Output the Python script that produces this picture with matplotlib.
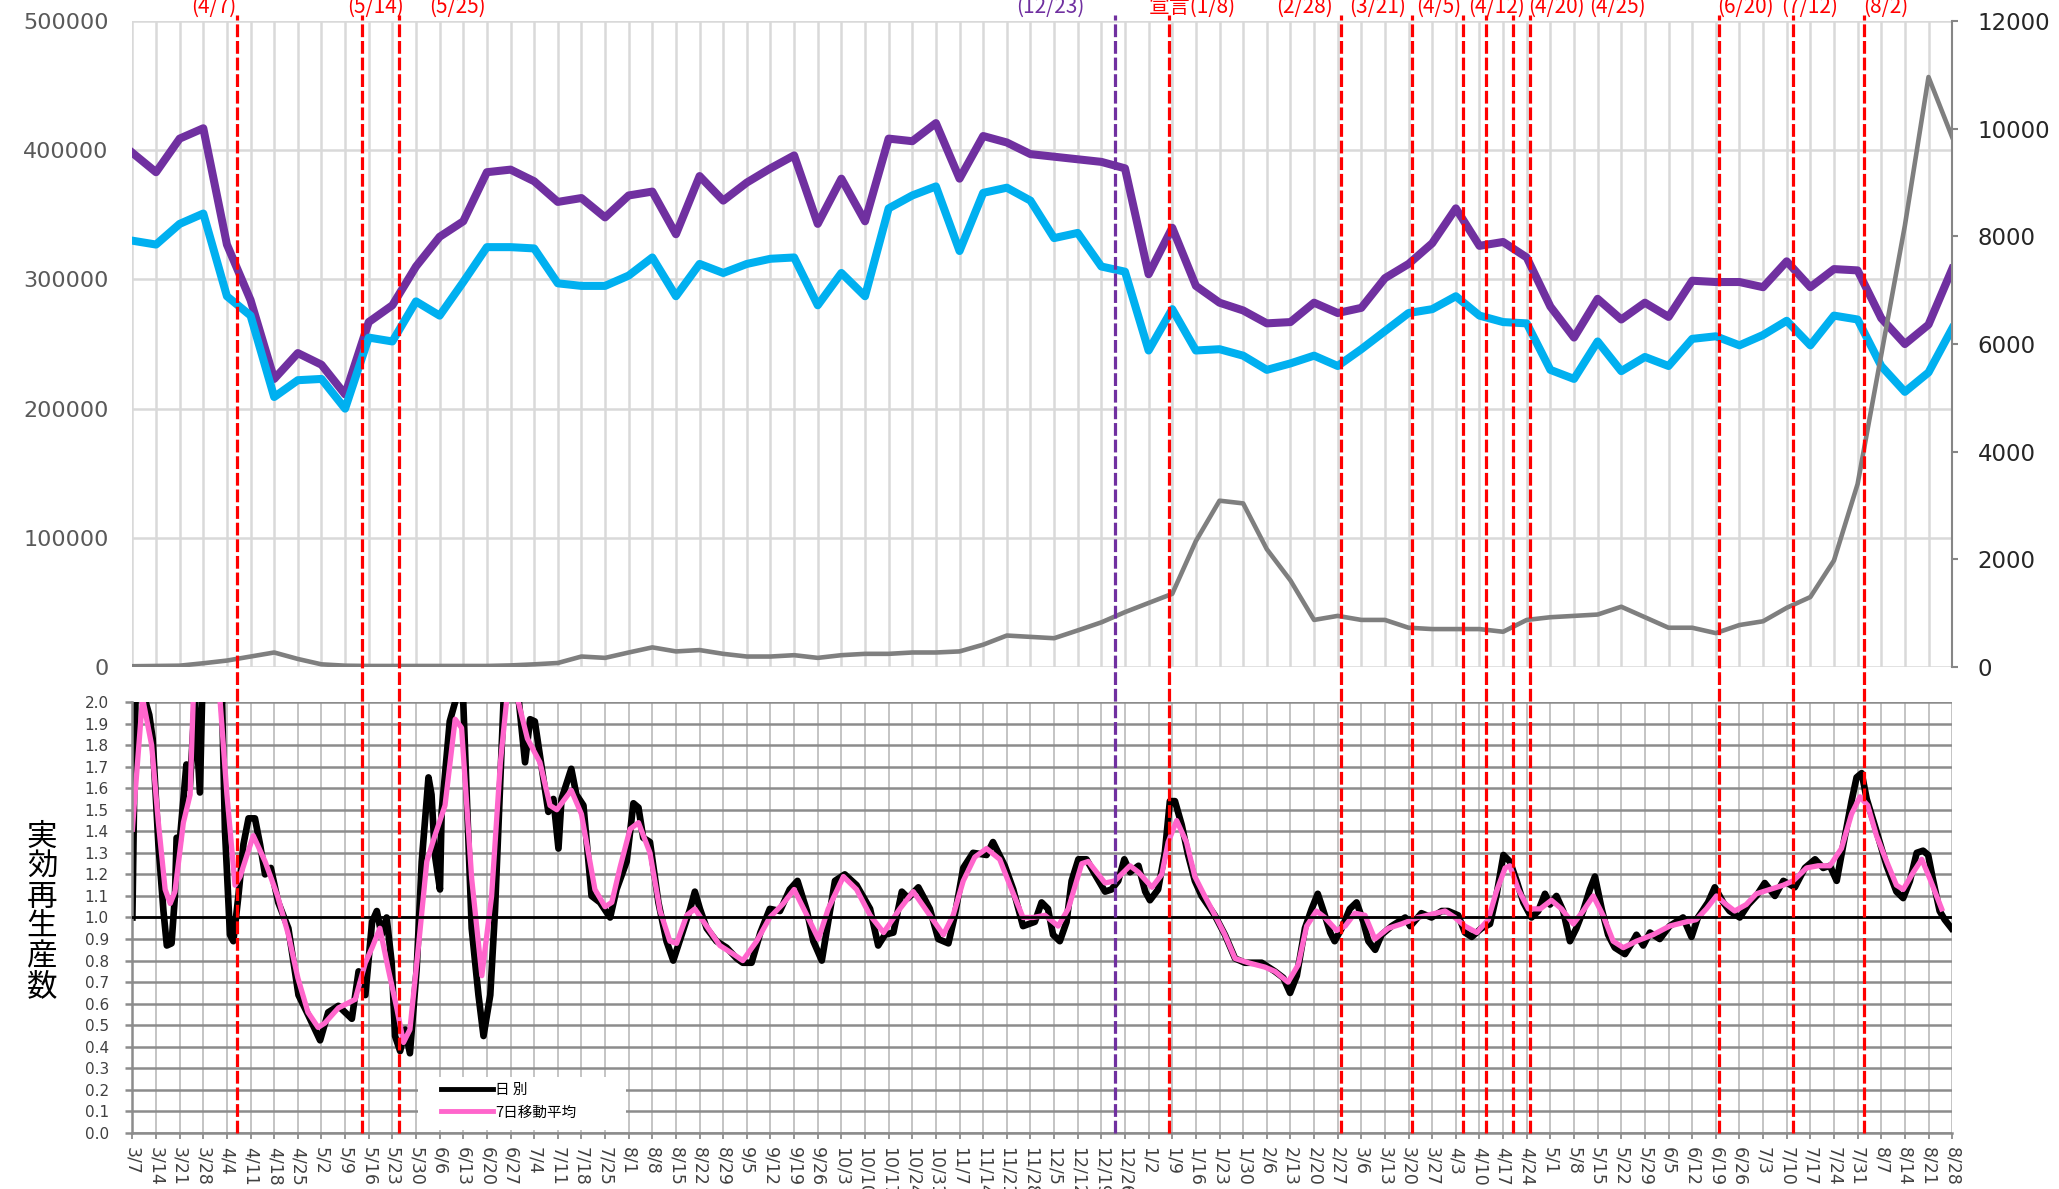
import matplotlib
matplotlib.use("Agg")
import matplotlib.pyplot as plt
from matplotlib.lines import Line2D
from matplotlib.patches import Rectangle
from matplotlib.transforms import blended_transform_factory

plt.rcParams["font.family"] = ["DejaVu Sans", "Noto Sans CJK JP"]

# weekly categories (2020/3/7 - 2021/8/28)
week_labels = [
    "3/7", "3/14", "3/21", "3/28", "4/4", "4/11", "4/18", "4/25", "5/2", "5/9",
    "5/16", "5/23", "5/30", "6/6", "6/13", "6/20", "6/27", "7/4", "7/11", "7/18",
    "7/25", "8/1", "8/8", "8/15", "8/22", "8/29", "9/5", "9/12", "9/19", "9/26",
    "10/3", "10/10", "10/17", "10/24", "10/31", "11/7", "11/14", "11/21", "11/28", "12/5",
    "12/12", "12/19", "12/26", "1/2", "1/9", "1/16", "1/23", "1/30", "2/6", "2/13",
    "2/20", "2/27", "3/6", "3/13", "3/20", "3/27", "4/3", "4/10", "4/17", "4/24",
    "5/1", "5/8", "5/15", "5/22", "5/29", "6/5", "6/12", "6/19", "6/26", "7/3",
    "7/10", "7/17", "7/24", "7/31", "8/7", "8/14", "8/21", "8/28",
]

# top panel, left axis
series_purple = [
    398000, 383000, 409000, 417000, 327000, 284000, 223000, 243000, 234000, 211000,
    267000, 280000, 310000, 333000, 345000, 383000, 385000, 376000, 360000, 363000,
    348000, 365000, 368000, 335000, 380000, 361000, 375000, 386000, 396000, 343000,
    378000, 345000, 409000, 407000, 421000, 378000, 411000, 406000, 397000, 395000,
    393000, 391000, 386000, 304000, 340000, 295000, 282000, 276000, 266000, 267000,
    282000, 274000, 278000, 301000, 312000, 328000, 355000, 326000, 329000, 317000,
    279000, 255000, 285000, 269000, 282000, 271000, 299000, 298000, 298000, 294000,
    314000, 294000, 308000, 307000, 270000, 250000, 265000, 308000,
]
series_cyan = [
    330000, 327000, 343000, 351000, 287000, 272000, 209000, 222000, 223000, 200000,
    255000, 252000, 283000, 272000, 298000, 325000, 325000, 324000, 297000, 295000,
    295000, 303000, 317000, 287000, 312000, 305000, 312000, 316000, 317000, 280000,
    305000, 287000, 355000, 365000, 372000, 322000, 367000, 371000, 361000, 332000,
    336000, 310000, 306000, 245000, 277000, 245000, 246000, 241000, 230000, 235000,
    241000, 233000, 246000, 260000, 274000, 277000, 287000, 272000, 267000, 266000,
    230000, 223000, 252000, 229000, 240000, 233000, 254000, 256000, 249000, 257000,
    268000, 249000, 272000, 269000, 233000, 213000, 228000, 262000,
]
# top panel, right axis
series_gray = [
    15, 20, 25, 70, 120, 195, 270, 150, 50, 25,
    20, 20, 20, 20, 20, 20, 30, 50, 75, 195,
    170, 270, 365, 290, 315, 245, 195, 195, 220, 170,
    220, 245, 245, 270, 270, 290, 415, 585, 560, 535,
    680, 830, 1020, 1190, 1360, 2340, 3090, 3040, 2190, 1610,
    875, 950, 875, 875, 730, 705, 705, 705, 655, 875,
    925, 950, 975, 1120, 925, 730, 730, 630, 780, 850,
    1100, 1300, 1980, 3400, 5800, 8200, 10960, 9845,
]

# bottom panel: effective reproduction number (day offset from 3/7, value)
daily_day = [
    0, 1, 3, 5, 6, 7.7, 9.2, 10.2, 11.6, 12.6, 13.1, 14, 16, 17, 18.5, 20, 20.7, 23, 26.5, 27.4,
    28.9, 29.9, 31.4, 32.9, 34.4, 36.3, 37.8, 39.3, 41, 43.2, 46.2, 49.2, 52, 55.6, 58, 61, 65, 67, 69, 71,
    72.4, 73.8, 75.3, 76.8, 77.8, 79.3, 80.8, 82.2, 84.2, 85.7, 87.7, 88.6, 89.6, 91.1, 91.6, 94, 95.6, 97, 98, 100.5,
    102.5, 104, 106, 107.4, 109, 110, 112, 114.3, 115.8, 116.3, 117.8, 119.2, 121, 123.2, 124.7, 126.2, 127.1, 130, 131.5, 133.6,
    136, 138.5, 141.5, 143.4, 146.4, 148.4, 149.9, 151.3, 153.3, 155.8, 158.2, 160.2, 162.7, 165.2, 166.6, 168.1, 170.1, 173, 176, 179,
    180.8, 183.4, 186, 188.8, 191.8, 194.7, 197, 199.8, 201.7, 204.2, 206.1, 208.1, 211, 214.5, 218.5, 220.9, 222.9, 225.4, 227.9, 229.8,
    232.8, 236.2, 238.7, 241.7, 243.6, 246.1, 249, 253, 254.9, 258.4, 260.9, 263.8, 267.3, 269.3, 271.2, 272.7, 274.7, 276.7, 278.2, 280.2,
    282.6, 285.1, 288.1, 290, 292, 293.8, 295.5, 298, 300, 301.4, 303.8, 305.8, 307.3, 308.8, 310.8, 312.7, 314.7, 316.7, 320.6, 323.6,
    326.6, 329.5, 334.5, 338.4, 340.9, 342.9, 344.9, 347.3, 349.3, 351.1, 352.8, 354.8, 356.1, 358.2, 360.6, 362.6, 364.6, 366.1, 368.1, 370,
    373, 375, 377, 378.5, 381.8, 384.8, 387.8, 389.7, 392.7, 394.7, 396.7, 399.6, 402.1, 404, 406.1, 408, 410, 412, 414.4, 416.4,
    418.4, 419.9, 421.8, 423.8, 425.8, 427.7, 429.7, 431.7, 433.2, 435.2, 437.1, 439.1, 442.1, 444.1, 445.5, 447.5, 449.5, 452.4, 455.3, 459.3,
    461.8, 463.7, 466.7, 468.7, 471.2, 473.1, 476.1, 478.6, 481, 483.5, 486.5, 489, 492.4, 495.4, 498.4, 500.8, 502.8, 504.8, 506.8, 509.2,
    510.7, 512.2, 513.7, 516.6, 519.6, 522.5, 524.5, 526.5, 528.5, 530.4, 531.9, 533.4, 535.3, 536.8, 538.8,
]
daily_r = [
    1.00, 2.10, 2.05, 1.94, 1.83, 1.34, 1.03, 0.87, 0.88, 1.10, 1.37, 1.35, 1.71, 1.60, 2.00, 1.58, 2.05, 2.30, 2.05, 1.41,
    0.92, 0.89, 1.10, 1.34, 1.46, 1.46, 1.34, 1.20, 1.23, 1.07, 0.95, 0.64, 0.55, 0.43, 0.56, 0.59, 0.53, 0.75, 0.64, 0.98,
    1.03, 0.92, 1.00, 0.79, 0.45, 0.38, 0.48, 0.37, 0.76, 1.26, 1.65, 1.57, 1.29, 1.13, 1.49, 1.91, 2.00, 2.20, 2.00, 0.95,
    0.64, 0.45, 0.64, 1.03, 1.65, 2.03, 2.30, 2.03, 1.80, 1.72, 1.92, 1.91, 1.72, 1.49, 1.55, 1.32, 1.55, 1.69, 1.57, 1.52,
    1.10, 1.07, 1.00, 1.13, 1.26, 1.53, 1.51, 1.37, 1.35, 1.07, 0.89, 0.80, 0.92, 1.04, 1.12, 1.04, 0.95, 0.89, 0.86, 0.81,
    0.79, 0.79, 0.93, 1.04, 1.03, 1.13, 1.17, 1.03, 0.89, 0.80, 0.98, 1.17, 1.20, 1.15, 1.04, 0.87, 0.92, 0.93, 1.12, 1.09,
    1.14, 1.04, 0.90, 0.88, 1.01, 1.23, 1.30, 1.29, 1.35, 1.24, 1.13, 0.96, 0.98, 1.07, 1.04, 0.92, 0.89, 0.98, 1.17, 1.27,
    1.27, 1.20, 1.12, 1.13, 1.17, 1.27, 1.21, 1.24, 1.12, 1.08, 1.13, 1.30, 1.54, 1.54, 1.43, 1.29, 1.17, 1.10, 1.01, 0.92,
    0.81, 0.79, 0.79, 0.75, 0.72, 0.65, 0.73, 0.95, 1.04, 1.11, 1.03, 0.93, 0.89, 0.95, 1.04, 1.07, 0.98, 0.89, 0.85, 0.92,
    0.96, 0.98, 1.00, 0.96, 1.02, 1.00, 1.03, 1.03, 1.01, 0.93, 0.91, 0.95, 0.97, 1.10, 1.29, 1.26, 1.17, 1.07, 1.00, 1.03,
    1.11, 1.06, 1.10, 1.03, 0.89, 0.95, 1.03, 1.13, 1.19, 1.04, 0.92, 0.86, 0.83, 0.88, 0.92, 0.87, 0.93, 0.90, 0.96, 1.00,
    0.91, 1.00, 1.07, 1.14, 1.07, 1.03, 1.00, 1.06, 1.10, 1.16, 1.10, 1.17, 1.14, 1.23, 1.27, 1.23, 1.24, 1.17, 1.34, 1.54,
    1.65, 1.67, 1.55, 1.40, 1.24, 1.12, 1.09, 1.17, 1.30, 1.31, 1.29, 1.17, 1.03, 0.99, 0.95,
]

ma_day = [
    0, 3, 5.7, 7.7, 9.7, 11.2, 12.6, 15.1, 17.1, 18, 20, 24, 26, 28, 30.4, 31.9, 35.8, 39.3, 43, 46.2,
    49, 52, 55, 57, 61, 66, 69, 71, 73.3, 75.8, 78.3, 80.3, 82.2, 84.7, 87.2, 89.6, 92.6, 95.6, 97.5, 100.5,
    103.5, 106.4, 109, 111, 112.5, 114, 117, 120.7, 123.7, 125.7, 130, 133, 134.6, 137, 140, 142, 144.4, 147.4, 149.9, 153.3,
    156.3, 159.2, 161.2, 164.2, 166.6, 170.1, 174, 178, 180.8, 184.9, 188.8, 192.8, 196, 199.8, 203.2, 206.1, 210.6, 214.5, 218.5, 222.5,
    227.3, 231.3, 236.2, 240.2, 243.1, 246.1, 249.5, 253, 256.9, 259.9, 263.8, 266.8, 270.3, 274.2, 277.2, 281.2, 283.1, 288.1, 291, 295.5,
    298, 302, 304.9, 306.8, 309.3, 312.2, 314.7, 317.6, 321, 323.6, 326.6, 330.5, 335.4, 338.4, 342.3, 345.3, 347.8, 350.7, 353.2, 356.7,
    359.2, 362.1, 365.1, 368, 372, 375.9, 380.8, 388.8, 391.7, 394.7, 398.2, 401.6, 404, 406.6, 408, 410.5, 413.5, 417, 420.3, 423.3,
    426.8, 429.7, 432.7, 435.6, 438.6, 441.6, 445.5, 450.4, 455.3, 460.3, 463.2, 466.2, 469.2, 472.1, 474.6, 478, 481, 485, 489, 491.9,
    495.9, 499.3, 502.8, 506.2, 509.2, 511.7, 514, 516.6, 519.6, 522.5, 524.5, 527.5, 530, 532.4, 535.9,
]
ma_r = [
    1.41, 2.02, 1.80, 1.44, 1.13, 1.065, 1.12, 1.44, 1.57, 2.00, 2.30, 2.30, 2.00, 1.57, 1.15, 1.19, 1.38, 1.26, 1.10, 0.92,
    0.72, 0.56, 0.49, 0.51, 0.58, 0.62, 0.79, 0.86, 0.95, 0.76, 0.58, 0.42, 0.48, 0.86, 1.26, 1.38, 1.52, 1.92, 1.88, 1.18,
    0.73, 1.10, 1.72, 2.03, 2.20, 2.02, 1.83, 1.72, 1.52, 1.50, 1.59, 1.48, 1.34, 1.13, 1.05, 1.07, 1.23, 1.41, 1.44, 1.30,
    1.03, 0.89, 0.88, 1.01, 1.04, 0.96, 0.87, 0.83, 0.80, 0.89, 1.00, 1.065, 1.13, 1.01, 0.90, 1.04, 1.19, 1.13, 1.01, 0.93,
    1.04, 1.12, 1.01, 0.92, 1.01, 1.17, 1.28, 1.32, 1.27, 1.15, 1.00, 1.00, 1.01, 0.96, 1.04, 1.25, 1.26, 1.16, 1.17, 1.24,
    1.21, 1.14, 1.20, 1.35, 1.45, 1.35, 1.19, 1.10, 1.00, 0.92, 0.81, 0.79, 0.77, 0.75, 0.70, 0.78, 0.96, 1.03, 1.00, 0.94,
    0.96, 1.02, 1.01, 0.90, 0.95, 0.97, 1.00, 1.03, 1.00, 0.96, 0.93, 0.99, 1.12, 1.23, 1.24, 1.13, 1.04, 1.04, 1.08, 1.04,
    0.97, 1.03, 1.10, 1.01, 0.89, 0.86, 0.89, 0.92, 0.96, 0.98, 0.99, 1.04, 1.10, 1.06, 1.03, 1.06, 1.11, 1.13, 1.15, 1.17,
    1.23, 1.24, 1.24, 1.32, 1.48, 1.56, 1.52, 1.38, 1.26, 1.15, 1.13, 1.21, 1.27, 1.18, 1.04,
]

# vertical event markers
event_days = [31, 68, 79, 291, 307, 358, 379, 394, 401, 409, 414, 470, 492, 513]
event_labels = ["(4/7)", "(5/14)", "(5/25)", "(12/23)", "宣言(1/8)", "(2/28)", "(3/21)",
                "(4/5)", "(4/12)", "(4/20)", "(4/25)", "(6/20)", "(7/12)", "(8/2)"]
event_colors = ["red", "red", "red", "#7030A0", "red", "red", "red",
                "red", "red", "red", "red", "red", "red", "red"]
label_days = [24.2, 71.9, 96.2, 271.8, 313.9, 347.1, 368.7, 387, 403.9, 421.7, 439.8, 477.7, 496.7, 519.2]

week_x = [7 * i for i in range(len(week_labels))]
x_max = week_x[-1]

fig = plt.figure(figsize=(20.59, 11.89), dpi=100)
left, width = 0.0643, 0.8838
ax_top = fig.add_axes([left, 0.439, width, 0.5433])
ax_bot = fig.add_axes([left, 0.0471, width, 0.3625])

# ---- top panel
ax_top.set_axisbelow(True)
ax_top.plot(week_x, series_purple, color="#7030A0", lw=5.8)
ax_top.plot(week_x, series_cyan, color="#00B0F0", lw=5.8)
ax_top.set_xlim(0, x_max)
ax_top.set_ylim(0, 500000)
ax_top.set_yticks(range(0, 500001, 100000))
ax_top.set_xticks(week_x)
ax_top.set_xticklabels([])
ax_top.grid(True, color="#D9D9D9", lw=1.8)
for s in ax_top.spines.values():
    s.set_visible(False)
ax_top.tick_params(axis="x", length=0)
ax_top.tick_params(axis="y", length=0, labelsize=16, labelcolor="#595959", pad=17)

ax_r = ax_top.twinx()
ax_r.plot(week_x, series_gray, color="#7F7F7F", lw=3.3)
ax_r.set_ylim(0, 12000)
ax_r.set_yticks(range(0, 12001, 2000))
for k in ["left", "top", "bottom"]:
    ax_r.spines[k].set_visible(False)
ax_r.spines["right"].set_color("#868686")
ax_r.spines["right"].set_linewidth(1.5)
ax_r.tick_params(axis="y", direction="out", length=4.5, width=1.5, color="#868686",
                 labelsize=16.5, labelcolor="#262626", pad=14)

# ---- bottom panel
ax_bot.set_axisbelow(True)
ax_bot.plot(daily_day, daily_r, color="black", lw=4.8)
ax_bot.plot(ma_day, ma_r, color="#FF66CC", lw=3.8)
ax_bot.axhline(1.0, color="black", lw=2, zorder=4)
ax_bot.set_xlim(0, x_max)
ax_bot.set_ylim(0, 2.0)
yt = [i / 10 for i in range(21)]
ax_bot.set_yticks(yt)
ax_bot.set_yticklabels([f"{v:.1f}" for v in yt])
ax_bot.set_xticks(week_x)
ax_bot.set_xticklabels(week_labels, rotation=-90)
ax_bot.yaxis.grid(True, color="#8C8C8C", lw=1.8)
ax_bot.xaxis.grid(True, color="#BFBFBF", lw=1.3)
for k in ["top", "right"]:
    ax_bot.spines[k].set_visible(False)
for k in ["left", "bottom"]:
    ax_bot.spines[k].set_color("#8C8C8C")
    ax_bot.spines[k].set_linewidth(1.8)
ax_bot.tick_params(axis="x", direction="out", length=4, width=1.3, color="#8C8C8C",
                   labelsize=12.5, labelcolor="#404040", pad=6)
ax_bot.tick_params(axis="y", direction="out", length=5, width=1.8, color="#8C8C8C",
                   labelsize=11, labelcolor="#404040", pad=12)

# legend on a white patch
ax_bot.add_patch(Rectangle((0.157, 0.008), 0.114, 0.122, transform=ax_bot.transAxes,
                           facecolor="white", edgecolor="none", zorder=1))
handles = [Line2D([], [], color="black", lw=3.5), Line2D([], [], color="#FF66CC", lw=3.5)]
ax_bot.legend(handles, ["日 別", "7日移動平均"], loc="upper left", bbox_to_anchor=(0.1655, 0.132),
              frameon=False, handlelength=3.6, handletextpad=0.1,
              labelspacing=0.55, borderpad=0, prop={"family": "Noto Sans CJK JP", "size": 10.5})

fig.text(0.0204, 0.233, "実\n効\n再\n生\n産\n数", ha="center", va="center",
         fontsize=22, family="Noto Sans CJK JP", linespacing=0.95)

# event lines across both panels
trans = blended_transform_factory(ax_bot.transData, fig.transFigure)
for d, c in zip(event_days, event_colors):
    fig.add_artist(Line2D([d, d], [0.047, 0.987], transform=trans, color=c,
                          lw=2.3, dashes=(4, 1.2)))
for x, s, c in zip(label_days, event_labels, event_colors):
    fig.text(x, 0.989, s, transform=trans, ha="center", va="baseline",
             fontsize=15, color=c, family=["Noto Sans CJK JP"])

fig.savefig("out.png", dpi=100)
